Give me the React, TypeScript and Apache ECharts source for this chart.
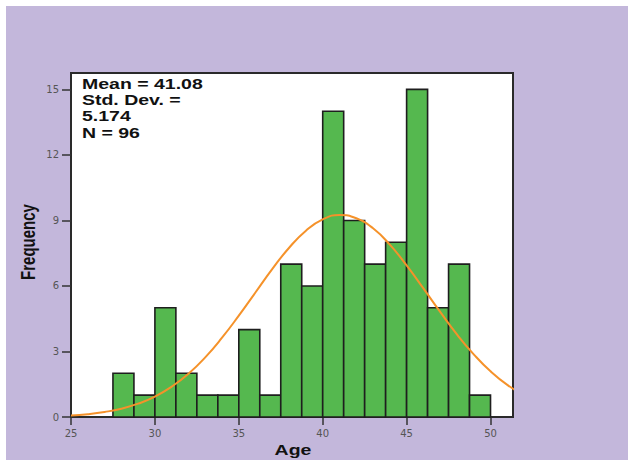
import React, { useEffect, useRef } from "react";
import * as echarts from "echarts";

// Histogram bins (left edges) and counts
const binStarts = [27.5, 28.75, 30, 31.25, 32.5, 33.75, 35, 36.25, 37.5, 38.75, 40, 41.25, 42.5, 43.75, 45, 46.25, 47.5, 48.75];
const binWidth = 1.25;
const counts = [2, 1, 5, 2, 1, 1, 4, 1, 7, 6, 14, 9, 7, 8, 15, 5, 7, 1];

// Fitted normal curve
const curveAges = [25, 26, 27, 28, 29, 30, 31, 32, 33, 34, 35, 36, 37, 38, 39, 40, 41, 42, 43, 44, 45, 46, 47, 48, 49, 50, 51, 52];
const curveFreq = [0.07, 0.13, 0.23, 0.38, 0.61, 0.93, 1.39, 1.98, 2.73, 3.63, 4.64, 5.71, 6.78, 7.75, 8.53, 9.05, 9.25, 9.1, 8.64, 7.89, 6.94, 5.89, 4.81, 3.78, 2.87, 2.09, 1.47, 1.01];

const xTicks = [25, 30, 35, 40, 45, 50];
const yTicks = [0, 3, 6, 9, 12, 15];

const statLines = ["Mean = 41.08", "Std. Dev. =", "5.174", "N = 96"];

export default function App() {
  const ref = useRef<HTMLDivElement>(null);
  useEffect(() => {
    if (!ref.current) return;
    const chart = echarts.init(ref.current, undefined, { renderer: "svg" });
    const barData = binStarts.map((s, i) => [s, s + binWidth, counts[i]]);
    const lineData = curveAges.map((a, i) => [a, curveFreq[i]]);
    const labelFont = "Liberation Sans, Arial, sans-serif";
    chart.setOption({
      animation: false,
      backgroundColor: "#ffffff",
      grid: {
        left: 71,
        top: 73,
        right: 115,
        bottom: 44,
        show: true,
        backgroundColor: "#ffffff",
        borderColor: "#2a2a2a",
        borderWidth: 2,
      },
      xAxis: {
        type: "value",
        min: 25,
        max: 51.34,
        splitLine: { show: false },
        axisLine: { show: true, lineStyle: { color: "#2a2a2a", width: 2 } },
        axisTick: { show: true, length: 8, customValues: xTicks, lineStyle: { color: "#333", width: 1.5 } },
        axisLabel: { customValues: xTicks, margin: 11, fontSize: 10, color: "#555", fontFamily: "DejaVu Sans" },
      },
      yAxis: {
        type: "value",
        min: 0,
        max: 15.75,
        splitLine: { show: false },
        axisLine: { show: true, lineStyle: { color: "#2a2a2a", width: 2 } },
        axisTick: { show: true, length: 9, customValues: yTicks, lineStyle: { color: "#333", width: 1.5 } },
        axisLabel: { customValues: yTicks, margin: 12, fontSize: 10, color: "#555", fontFamily: "DejaVu Sans" },
      },
      series: [
        {
          type: "custom",
          data: barData,
          encode: { x: [0, 1], y: 2 },
          z: 2,
          renderItem: (params: any, api: any) => {
            const x0 = api.value(0);
            const x1 = api.value(1);
            const v = api.value(2);
            const p0 = api.coord([x0, 0]);
            const p1 = api.coord([x1, v]);
            return {
              type: "rect",
              shape: { x: p0[0], y: p1[1], width: p1[0] - p0[0], height: p0[1] - p1[1] },
              style: { fill: "#55B84F", stroke: "#1e1e1e", lineWidth: 1.6 },
            };
          },
        },
        {
          type: "line",
          data: lineData,
          smooth: true,
          showSymbol: false,
          clip: true,
          z: 5,
          lineStyle: { color: "#F5922A", width: 2 },
        },
      ],
      graphic: [
        {
          type: "rect",
          z: -100,
          shape: { x: 6, y: 6, width: 622, height: 454 },
          style: { fill: "#C3B7DB" },
        },
        {
          type: "group",
          x: 82,
          y: 0,
          scaleX: 1.3,
          z: 100,
          children: statLines.map((t, i) => ({
            type: "text",
            x: 0,
            y: 83.5 + i * 16.4,
            style: {
              text: t,
              font: `bold 15px ${labelFont}`,
              fill: "#111",
              textAlign: "left",
              textVerticalAlign: "middle",
            },
          })),
        },
        {
          type: "text",
          x: 293,
          y: 449.5,
          scaleX: 1.3,
          z: 100,
          style: {
            text: "Age",
            font: `bold 15px ${labelFont}`,
            fill: "#111",
            textAlign: "center",
            textVerticalAlign: "middle",
          },
        },
        {
          type: "text",
          x: 28,
          y: 242,
          rotation: Math.PI / 2,
          scaleY: 1.3,
          z: 100,
          style: {
            text: "Frequency",
            font: `bold 15px ${labelFont}`,
            fill: "#111",
            textAlign: "center",
            textVerticalAlign: "middle",
          },
        },
      ],
    });
    return () => chart.dispose();
  }, []);
  return (
    <div
      ref={ref}
      style={{ position: "fixed", left: 0, top: 0, width: 628, height: 461 }}
    />
  );
}
